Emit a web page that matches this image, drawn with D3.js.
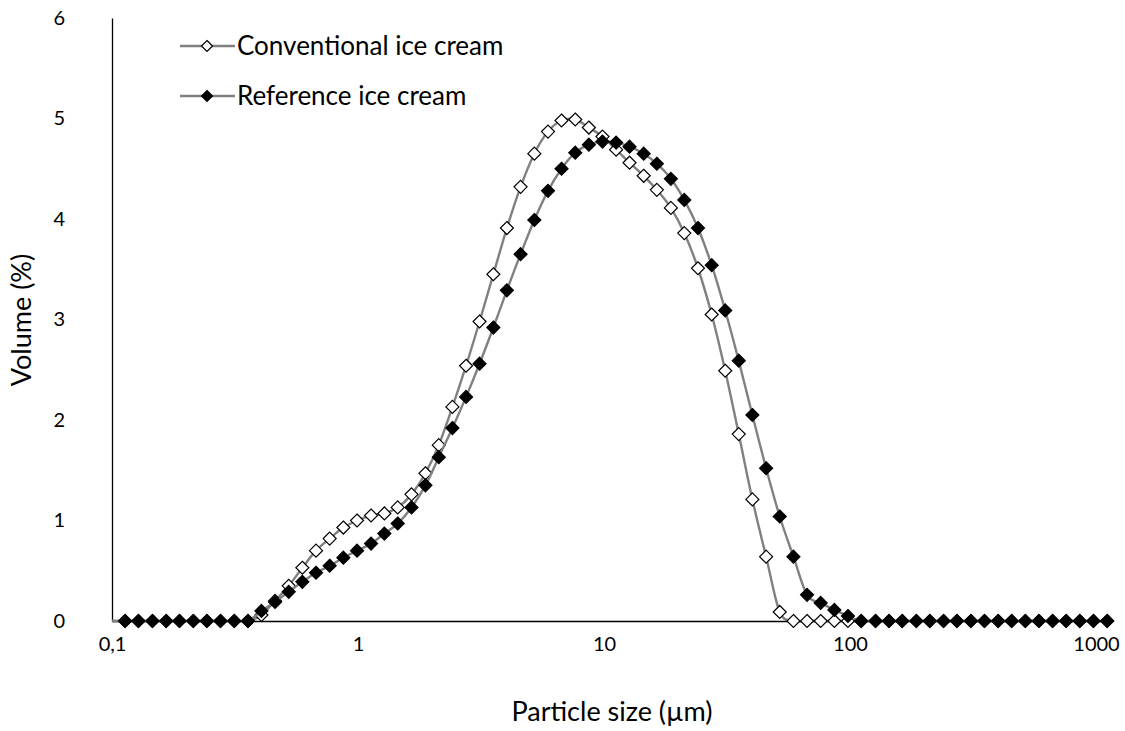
<!DOCTYPE html>
<html>
<head>
<meta charset="utf-8">
<script src="https://cdn.jsdelivr.net/npm/d3@7"></script>
<style>
  html, body { margin: 0; padding: 0; background: #fff; }
  svg { display: block; font-family: Lato, "Open Sans", sans-serif; }
</style>
</head>
<body>
<svg id="chart" width="1125" height="731"></svg>
<script>
// Particle size classes (µm), log-spaced laser-diffraction bins
const sizes = [0.0995, 0.113, 0.128, 0.146, 0.166, 0.188, 0.214, 0.243, 0.276, 0.314,
  0.357, 0.405, 0.46, 0.523, 0.594, 0.675, 0.767, 0.872, 0.991, 1.13,
  1.28, 1.45, 1.65, 1.88, 2.13, 2.42, 2.75, 3.12, 3.55, 4.03,
  4.58, 5.21, 5.92, 6.72, 7.64, 8.68, 9.86, 11.2, 12.7, 14.5,
  16.4, 18.7, 21.2, 24.1, 27.4, 31.1, 35.3, 40.1, 45.6, 51.8,
  58.9, 66.9, 76, 86.4, 98.1, 111, 127, 144, 163, 186,
  211, 240, 272, 310, 352, 400, 454, 516, 586, 666,
  756, 859, 976, 1110];

// Volume (%) per class
const conventional = [0, 0, 0, 0, 0, 0, 0, 0, 0, 0, 0,
  0.06, 0.20, 0.35, 0.53, 0.70, 0.82, 0.93, 1.00, 1.05, 1.07,
  1.13, 1.26, 1.47, 1.75, 2.13, 2.54, 2.98, 3.45, 3.91, 4.32,
  4.65, 4.87, 4.98, 4.99, 4.91, 4.82, 4.69, 4.56, 4.43, 4.29,
  4.11, 3.86, 3.51, 3.05, 2.49, 1.86, 1.21, 0.64, 0.09,
  0, 0, 0, 0, 0, 0, 0, 0, 0, 0, 0, 0, 0, 0, 0, 0, 0, 0, 0, 0, 0, 0, 0, 0];

const reference = [0, 0, 0, 0, 0, 0, 0, 0, 0, 0, 0,
  0.10, 0.19, 0.29, 0.39, 0.48, 0.55, 0.63, 0.70, 0.77, 0.87,
  0.97, 1.13, 1.35, 1.63, 1.92, 2.23, 2.56, 2.92, 3.29, 3.65,
  3.99, 4.28, 4.50, 4.66, 4.74, 4.77, 4.76, 4.72, 4.65, 4.55,
  4.40, 4.19, 3.91, 3.54, 3.09, 2.59, 2.05, 1.52, 1.04, 0.64,
  0.26, 0.18, 0.11, 0.05,
  0, 0, 0, 0, 0, 0, 0, 0, 0, 0, 0, 0, 0, 0, 0, 0, 0, 0, 0];

const seriesNames = ["Conventional ice cream", "Reference ice cream"];
const xTickValues = [0.1, 1, 10, 100, 1000];
const xTickLabels = ["0,1", "1", "10", "100", "1000"];
const yTickValues = [0, 1, 2, 3, 4, 5, 6];

const svg = d3.select("#chart");

const plotLeft = 112, plotBottom = 621, plotTop = 18;
const decade = 246;
const xMax = 1160;
const x = d3.scaleLog().domain([0.1, xMax])
  .range([plotLeft, plotLeft + decade * Math.log10(xMax / 0.1)]);
const y = d3.scaleLinear().domain([0, 6]).range([plotBottom, plotTop]);

const lineColor = "#808080";

// clip for plotting area
svg.append("defs").append("clipPath").attr("id", "plot")
  .append("rect")
  .attr("x", plotLeft).attr("y", 0)
  .attr("width", x.range()[1] - plotLeft + 10).attr("height", plotBottom + 10);

// Axes
const xAxis = d3.axisBottom(x).tickValues(xTickValues)
  .tickFormat((d, i) => xTickLabels[i]).tickSize(0).tickPadding(16);
const gx = svg.append("g").attr("transform", `translate(0,${plotBottom})`).call(xAxis);
gx.select(".domain").attr("stroke", "#000").attr("stroke-width", 1.3);
gx.selectAll("text").attr("font-size", 20).attr("fill", "#000")
  .attr("font-family", "Lato, sans-serif");

const yAxis = d3.axisLeft(y).tickValues(yTickValues).tickFormat(d3.format("d"))
  .tickSize(0).tickPadding(47);
const gy = svg.append("g").attr("transform", `translate(${plotLeft},0)`).call(yAxis);
gy.select(".domain").attr("stroke", "#000").attr("stroke-width", 1.3);
gy.selectAll("text").attr("font-size", 20).attr("fill", "#000")
  .attr("font-family", "Lato, sans-serif");

// Axis titles
svg.append("text")
  .attr("x", 612).attr("y", 721)
  .attr("text-anchor", "middle")
  .attr("font-size", 27).attr("fill", "#000")
  .text("Particle size (µm)");

svg.append("text")
  .attr("transform", "translate(31,320) rotate(-90)")
  .attr("text-anchor", "middle")
  .attr("font-size", 27).attr("fill", "#000")
  .text("Volume (%)");

// Diamond marker path
const h = 6.5;
const diamond = `M0,${-h}L${h},0L0,${h}L${-h},0Z`;

const line = d3.line()
  .x(d => x(d.s))
  .y(d => y(d.v))
  .curve(d3.curveCardinal.tension(0));

const series = [
  { name: seriesNames[0], values: conventional, fill: "#fff" },
  { name: seriesNames[1], values: reference, fill: "#000" }
];

const plot = svg.append("g").attr("clip-path", "url(#plot)");

series.forEach(sr => {
  const pts = sizes.map((s, i) => ({ s, v: sr.values[i] }));
  const g = plot.append("g");
  g.append("path")
    .attr("d", line(pts))
    .attr("fill", "none")
    .attr("stroke", lineColor)
    .attr("stroke-width", 2.4);
  g.selectAll("path.m")
    .data(pts.filter(p => p.s >= 0.1))
    .join("path")
    .attr("class", "m")
    .attr("d", diamond)
    .attr("transform", p => `translate(${x(p.s)},${y(p.v)})`)
    .attr("fill", sr.fill)
    .attr("stroke", "#000")
    .attr("stroke-width", 1.2);
});

// Legend
const legend = svg.append("g");
series.forEach((sr, i) => {
  const ly = 46 + i * 50;
  legend.append("line")
    .attr("x1", 180).attr("x2", 235)
    .attr("y1", ly).attr("y2", ly)
    .attr("stroke", lineColor).attr("stroke-width", 2.4);
  legend.append("path")
    .attr("d", `M0,-5.5L5.5,0L0,5.5L-5.5,0Z`)
    .attr("transform", `translate(207,${ly})`)
    .attr("fill", sr.fill).attr("stroke", "#000").attr("stroke-width", 1.2);
  legend.append("text")
    .attr("x", 237).attr("y", ly)
    .attr("dy", "0.35em")
    .attr("font-size", 26).attr("fill", "#000")
    .text(sr.name);
});
</script>
</body>
</html>
